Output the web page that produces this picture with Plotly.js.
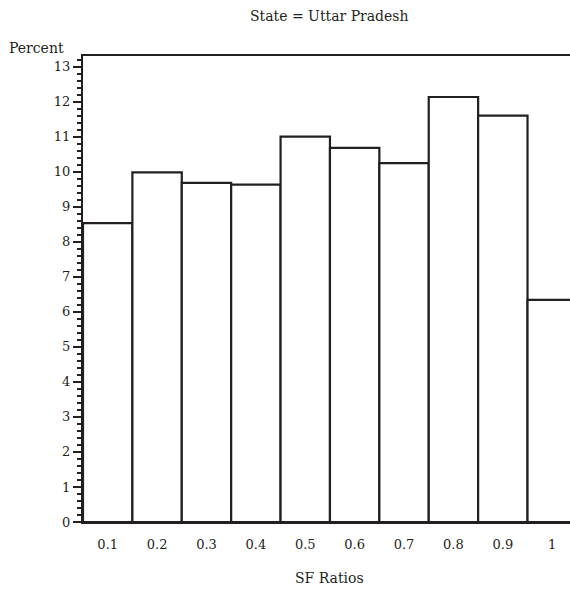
<!DOCTYPE html>
<html>
<head>
<meta charset="utf-8">
<script src="https://cdn.plot.ly/plotly-3.0.1.min.js"></script>
<style>html,body{margin:0;padding:0;background:#fff;}#chart{width:570px;height:591px;}</style>
</head>
<body>
<div id="chart"></div>
<script>
const sfRatios = [0.1, 0.2, 0.3, 0.4, 0.5, 0.6, 0.7, 0.8, 0.9, 1.0];
const tickLabels = ['0.1', '0.2', '0.3', '0.4', '0.5', '0.6', '0.7', '0.8', '0.9', '1'];
const percent = [8.53, 9.98, 9.68, 9.63, 11.00, 10.68, 10.24, 12.13, 11.60, 6.34];
const yTicks = [0,1,2,3,4,5,6,7,8,9,10,11,12,13];
const chartTitle = 'State = Uttar Pradesh';
const xTitle = 'SF Ratios';
const yTitle = 'Percent';

const FONT = "'DejaVu Serif', 'Liberation Serif', serif";
const INK = '#231f20';

Plotly.newPlot('chart', [{
  type: 'bar',
  x: sfRatios,
  y: percent,
  width: 0.1,
  marker: {color: '#ffffff', line: {color: INK, width: 2.2}},
  hoverinfo: 'skip'
}], {
  width: 570, height: 591,
  margin: {l: 83, r: 0, t: 56, b: 69},
  paper_bgcolor: '#fff', plot_bgcolor: '#fff',
  showlegend: false,
  bargap: 0,
  font: {family: FONT, size: 13, color: INK},
  xaxis: {
    range: [0.05, 1.036],
    tickmode: 'array', tickvals: sfRatios, ticktext: tickLabels,
    ticks: '', showgrid: false, zeroline: false, ticklabelstandoff: 9,
    showline: true, linecolor: INK, linewidth: 2, mirror: true,
    tickfont: {family: FONT, size: 13, color: INK}
  },
  yaxis: {
    range: [0, 13.3],
    tickmode: 'array', tickvals: yTicks,
    ticks: 'outside', ticklen: 8, tickwidth: 2, tickcolor: INK,
    minor: {dtick: 0.2, ticks: 'outside', ticklen: 4, tickwidth: 2, tickcolor: INK, showgrid: false},
    showgrid: false, zeroline: false,
    showline: true, linecolor: INK, linewidth: 2.2,
    tickfont: {family: FONT, size: 13, color: INK}
  },
  annotations: [
    {text: yTitle, xref: 'paper', yref: 'paper', x: -0.157, y: 1.0, xanchor: 'left', yanchor: 'bottom',
     yshift: -2, showarrow: false, font: {family: FONT, size: 14, color: INK}},
    {text: chartTitle, xref: 'paper', yref: 'paper', x: 0.507, y: 1.086, xanchor: 'center', yanchor: 'middle',
     showarrow: false, font: {family: FONT, size: 14, color: INK}},
    {text: xTitle, xref: 'paper', yref: 'paper', x: 0.507, y: -0.120, xanchor: 'center', yanchor: 'middle',
     showarrow: false, font: {family: FONT, size: 14, color: INK}}
  ]
}, {staticPlot: true, displayModeBar: false});
</script>
</body>
</html>
